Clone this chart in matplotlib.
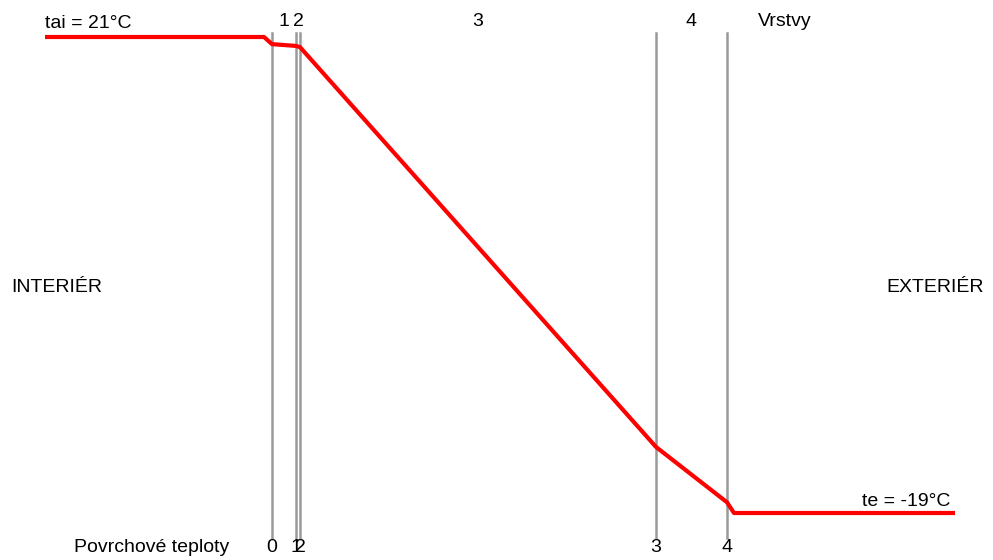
import matplotlib
matplotlib.use("Agg")
import matplotlib.pyplot as plt
import numpy as np

plt.rcParams['font.family'] = ['Liberation Sans', 'DejaVu Sans']

# Layer boundary positions (drawing units) and surface temperatures
boundaries = [272, 296, 300, 656, 727]
boundary_labels = ['0', '1', '2', '3', '4']
surface_temps = [20.4, 20.25, 20.15, -13.45, -18.1]
layer_labels = ['1', '2', '3', '4']

t_ai = 21
t_e = -19
x_interior_start = 45
x_interior_end = 264
x_exterior_start = 734
x_exterior_end = 955

fig = plt.figure(figsize=(9.93, 5.6), dpi=100)
ax = fig.add_axes([0, 0, 1, 1])
ax.set_xlim(0, 993)
px_per_deg = 11.9
ax.set_ylim(t_ai - (560 - 37) / px_per_deg, t_ai + 37 / px_per_deg)
ax.axis('off')

# vertical boundary lines
for b in boundaries:
    ax.axvline(b, ymin=1 - 538 / 560, ymax=1 - 33 / 560, color='#999999', lw=1.8, zorder=1)

# temperature profile
xs = [x_interior_start, x_interior_end] + boundaries + [x_exterior_start, x_exterior_end]
ts = [t_ai, t_ai] + surface_temps + [t_e, t_e]
ax.plot(xs, ts, color='#ff0000', lw=3.0, solid_joinstyle='round', solid_capstyle='butt', zorder=2)

fs = 14
def ypix(p):
    return 1 - p / 560

tr = ax.get_xaxis_transform()

# layer labels at top
for i, lab in enumerate(layer_labels):
    xm = (boundaries[i] + boundaries[i + 1]) / 2
    ax.text(xm, ypix(21), lab, transform=tr, ha='center', va='center', fontsize=fs)
ax.text(785, ypix(21), 'Vrstvy', transform=tr, ha='center', va='center', fontsize=fs)

# boundary labels at bottom
for b, lab in zip(boundaries, boundary_labels):
    ax.text(b, ypix(548), lab, transform=tr, ha='center', va='center', fontsize=fs)
ax.text(152, ypix(548), 'Povrchové teploty', transform=tr, ha='center', va='center', fontsize=fs)

ax.text(57, ypix(287), 'INTERIÉR', transform=tr, ha='center', va='center', fontsize=fs)
ax.text(935, ypix(287), 'EXTERIÉR', transform=tr, ha='center', va='center', fontsize=fs)

ax.text(x_interior_start, ypix(24), f'tai = {t_ai}°C', transform=tr, ha='left', va='center', fontsize=fs)
ax.text(950, ypix(501), f'te = {t_e}°C', transform=tr, ha='right', va='center', fontsize=fs)

fig.savefig('out.png', dpi=100)
